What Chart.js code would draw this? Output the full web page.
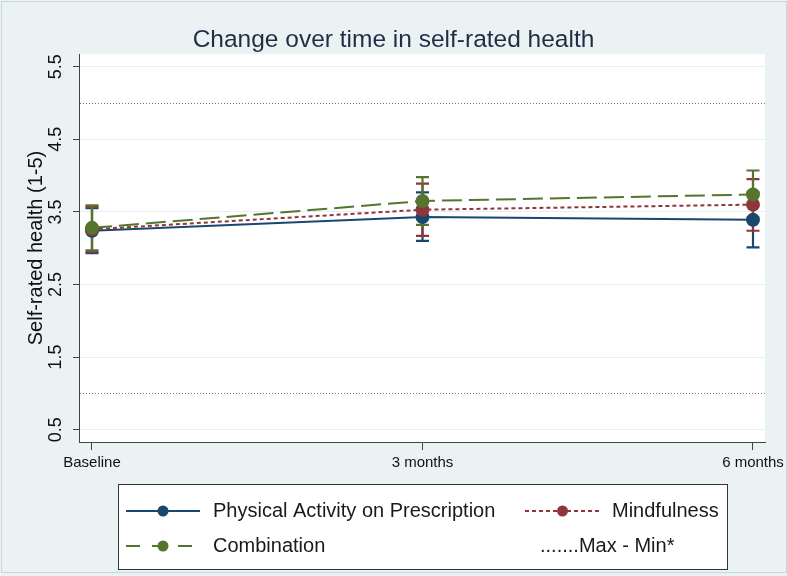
<!DOCTYPE html>
<html>
<head>
<meta charset="utf-8">
<script src="https://cdn.jsdelivr.net/npm/chart.js@4/dist/chart.umd.min.js"></script>
<style>
    html, body { margin: 0; padding: 0; background: #eaf2f3; }
</style>
</head>
<body>
<canvas id="myChart" width="787" height="576"></canvas>
<script>
// categories and values
let timeLabels = ["Baseline", "3 months", "6 months"];
let timePoints = [0, 3, 6];
let yTicks = [0.5, 1.5, 2.5, 3.5, 4.5, 5.5];

let papMean = [3.24, 3.43, 3.39];
let papLow = [2.93, 3.10, 3.01];
let papHigh = [3.55, 3.77, 3.77];

let mindMean = [3.26, 3.53, 3.60];
let mindLow = [2.95, 3.17, 3.24];
let mindHigh = [3.57, 3.89, 3.95];

let combMean = [3.28, 3.65, 3.74];
let combLow = [2.97, 3.32, 3.42];
let combHigh = [3.59, 3.98, 4.07];

let maxMin = [5, 1];

let font = "'Liberation Sans', Arial, sans-serif";

let series = [
    { label: "Physical Activity on Prescription", mean: papMean, low: papLow, high: papHigh, color: "#1a476f", dash: [], order: 2 },
    { label: "Mindfulness", mean: mindMean, low: mindLow, high: mindHigh, color: "#90353b", dash: [4, 3], order: 1 },
    { label: "Combination", mean: combMean, low: combLow, high: combHigh, color: "#55752f", dash: [20, 7], order: 0 },
];

//error bars drawn with the chart scales
function drawErrorBars(ctx, xs, ys, s) {
    ctx.save();
    ctx.strokeStyle = s.color;
    ctx.lineWidth = 2.2;
    timePoints.forEach((t, i) => {
        let px = xs.getPixelForValue(t);
        let p1 = ys.getPixelForValue(s.low[i]);
        let p2 = ys.getPixelForValue(s.high[i]);
        ctx.beginPath();
        ctx.moveTo(px, p1); ctx.lineTo(px, p2);
        ctx.moveTo(px - 6.5, p1); ctx.lineTo(px + 6.5, p1);
        ctx.moveTo(px - 6.5, p2); ctx.lineTo(px + 6.5, p2);
        ctx.stroke();
    });
    ctx.restore();
}

function legendSample(ctx, x1, x2, y, s) {
    ctx.save();
    ctx.strokeStyle = s.color;
    ctx.lineWidth = 2;
    ctx.setLineDash(s.dash.length ? (s.dash[0] > 10 ? [14, 12] : [4, 3]) : []);
    ctx.beginPath();
    ctx.moveTo(x1, y); ctx.lineTo(x2, y);
    ctx.stroke();
    ctx.fillStyle = s.color;
    ctx.beginPath();
    ctx.arc((x1 + x2) / 2, y, 5.5, 0, Math.PI * 2);
    ctx.fill();
    ctx.restore();
}

let decor = {
    id: "decor",
    beforeDraw(chart) {
        let ctx = chart.ctx, a = chart.chartArea;
        ctx.save();
        ctx.fillStyle = "#eaf2f3";
        ctx.fillRect(0, 0, chart.width, chart.height);
        ctx.strokeStyle = "#c9d6dc";
        ctx.lineWidth = 1;
        ctx.strokeRect(1.5, 1.5, chart.width - 2, 571);
        ctx.fillStyle = "#ffffff";
        ctx.fillRect(a.left, a.top, a.right - a.left, a.bottom - a.top);
        ctx.restore();
    },
    beforeDatasetsDraw(chart) {
        let ctx = chart.ctx, a = chart.chartArea;
        let xs = chart.scales.x, ys = chart.scales.y;
        ctx.save();
        ctx.strokeStyle = "#7a7a7a";
        ctx.lineWidth = 1;
        ctx.setLineDash([1, 2]);
        maxMin.forEach((v) => {
            let py = Math.round(ys.getPixelForValue(v)) + 0.5;
            ctx.beginPath();
            ctx.moveTo(a.left + 1, py); ctx.lineTo(a.right, py);
            ctx.stroke();
        });
        ctx.restore();
        series.forEach((s) => drawErrorBars(ctx, xs, ys, s));
    },
    afterDraw(chart) {
        let ctx = chart.ctx, ys = chart.scales.y;
        ctx.save();
        // title
        ctx.fillStyle = "#1f2d45";
        ctx.font = "24.5px " + font;
        ctx.textAlign = "center";
        ctx.textBaseline = "alphabetic";
        ctx.fillText("Change over time in self-rated health", chart.width / 2, 47);
        // y tick labels, rotated
        ctx.fillStyle = "#111";
        ctx.font = "18px " + font;
        ctx.textBaseline = "middle";
        yTicks.forEach((v) => {
            ctx.save();
            ctx.translate(56, ys.getPixelForValue(v));
            ctx.rotate(-Math.PI / 2);
            ctx.fillText(v.toFixed(1), 0, 0);
            ctx.restore();
        });
        // y title
        ctx.save();
        ctx.font = "20px " + font;
        ctx.translate(36, 248);
        ctx.rotate(-Math.PI / 2);
        ctx.fillText("Self-rated health (1-5)", 0, 0);
        ctx.restore();
        // legend
        ctx.fillStyle = "#ffffff";
        ctx.fillRect(118, 484, 609, 85);
        ctx.strokeStyle = "#333";
        ctx.lineWidth = 1;
        ctx.strokeRect(118.5, 484.5, 609, 85);
        legendSample(ctx, 126, 200, 511, series[0]);
        legendSample(ctx, 525, 600, 511, series[1]);
        legendSample(ctx, 126, 200, 546, series[2]);
        ctx.fillStyle = "#1a1a1a";
        ctx.font = "20px " + font;
        ctx.textAlign = "left";
        ctx.textBaseline = "middle";
        ctx.fillText(series[0].label, 213, 511);
        ctx.fillText(series[1].label, 612, 511);
        ctx.fillText(series[2].label, 213, 546);
        ctx.fillText(".......Max - Min*", 540, 546);
        ctx.restore();
    },
};

let datasets = series.map((s) => ({
    label: s.label,
    data: timePoints.map((t, i) => ({ x: t, y: s.mean[i] })),
    borderColor: s.color,
    backgroundColor: s.color,
    borderWidth: 2,
    borderDash: s.dash,
    pointRadius: 7,
    pointBorderWidth: 0,
    pointBackgroundColor: s.color,
    order: s.order,
    tension: 0,
}));

let ctx = document.getElementById("myChart").getContext("2d");
window.bar = new Chart(ctx, {
    type: "line",
    data: { datasets: datasets },
    options: {
        responsive: false,
        animation: false,
        layout: { padding: { left: 0, top: 54, right: 22, bottom: 0 } },
        plugins: {
            legend: { display: false },
            tooltip: { enabled: false },
        },
        scales: {
            x: {
                type: "linear",
                min: -0.118,
                max: 6.109,
                afterBuildTicks: (s) => { s.ticks = timePoints.map((v) => ({ value: v })); },
                afterFit: (s) => { s.height = 134; s.paddingLeft = 0; s.paddingRight = 0; },
                ticks: {
                    callback: (v) => timeLabels[timePoints.indexOf(v)],
                    autoSkip: false,
                    maxRotation: 0,
                    minRotation: 0,
                    color: "#111",
                    font: { family: font, size: 15 },
                    padding: 4,
                },
                grid: { drawOnChartArea: false, tickLength: 8, tickColor: "#444" },
                border: { color: "#444", width: 1 },
            },
            y: {
                min: 0.33,
                max: 5.675,
                afterBuildTicks: (s) => { s.ticks = yTicks.map((v) => ({ value: v })); },
                afterFit: (s) => { s.width = 79; s.paddingTop = 0; s.paddingBottom = 0; },
                ticks: { display: false },
                grid: { color: "#e6eef1", tickLength: 6, tickColor: "#444" },
                border: { color: "#444", width: 1 },
            },
        },
    },
    plugins: [decor],
});
</script>
</body>
</html>
